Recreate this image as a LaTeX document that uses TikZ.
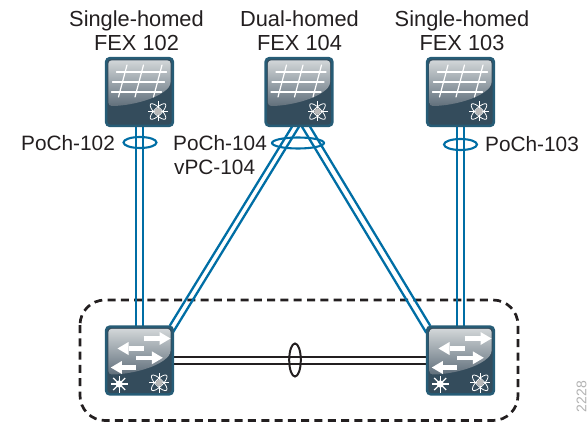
\documentclass[tikz,border=0pt]{standalone}
\usepackage{fontspec}
\setmainfont{Liberation Sans}
\usetikzlibrary{calc}
\definecolor{ciscoblue}{RGB}{0,110,165}
\definecolor{boxedge}{RGB}{38,92,118}
\definecolor{boxdark}{RGB}{52,76,92}
\definecolor{boxmid}{RGB}{95,110,122}
\definecolor{boxcentre}{RGB}{132,142,150}
\definecolor{boxlight}{RGB}{212,216,218}
\definecolor{inkblack}{RGB}{35,31,32}
\tikzset{
  x=1pt,y=-1pt,
  lbl/.style={font=\fontsize{21.8}{24}\selectfont,align=center,inner sep=0pt,text=inkblack},
  plbl/.style={font=\fontsize{20.8}{24}\selectfont,inner sep=0pt,text=inkblack},
  devicebox/.style={minimum width=68pt,minimum height=69pt,inner sep=0pt,draw=none},
  blueln/.style={ciscoblue,line width=2.3pt},
  blackln/.style={inkblack,line width=2.4pt},
  ring/.style={ciscoblue,line width=2.1pt},
  whiteln/.style={white,line width=1.2pt,line cap=round},
  arrowln/.style={white,line width=4.5pt},
}
\newcommand{\devbody}[1]{%
  \fill[boxedge,rounded corners=5pt] ($(#1.north west)+(-.5,-.5)$) rectangle ($(#1.south east)+(.5,.5)$);
  \fill[boxdark,rounded corners=3.5pt] ($(#1.north west)+(2,2)$) rectangle ($(#1.south east)+(-2,-2)$);
  \begin{scope}
    \clip[rounded corners=3.5pt] ($(#1.north west)+(3,3)$) -- ($(#1.north east)+(-3,3)$) -- ($(#1.east)+(-3,-7)$)
      .. controls ($(#1.east)+(-16,8)$) and ($(#1.center)+(-12,14)$) .. ($(#1.west)+(3,14)$) -- cycle;
    \shade[top color=boxlight,middle color=boxcentre,bottom color=boxmid] ($(#1.north west)+(2,2)$) rectangle ($(#1.south east)+(-2,-20)$);
  \end{scope}
}
\newcommand{\orbit}[1]{%
  \begin{scope}[shift={(#1)}]
    \foreach \a in {45,-45}{\draw[white,line width=.8pt,rotate=\a] (0,0) ellipse (10.5pt and 3.6pt);}
    \foreach \a in {0,90,180,270}{\draw[white,line width=.9pt] (0,0) -- (\a:10pt);}
    \fill[black!28] (0,0) circle (3.4pt);
  \end{scope}}
\newcommand{\snow}[1]{%
  \begin{scope}[shift={(#1)}]
    \foreach \a in {0,45,...,315}{\draw[white,line width=1.3pt] (0,0) -- (\a:8.5pt);}
    \fill[white] (0,0) circle (3.6pt);
  \end{scope}}
\newcommand{\fexgrid}[1]{%
  \begin{scope}[shift={(#1.center)}]
    \foreach \yy/\xa/\xb in {-20/-23/27,-10/-27/25,0/-28/22}{\draw[whiteln] (\xa,\yy) -- (\xb,\yy);}
    \foreach \xa/\xb in {-12.5/-21,4/-4.5,22.5/14}{\draw[whiteln] (\xa,-27) -- (\xb,5);}
  \end{scope}
  \orbit{$(#1.center)+(18.5,19.5)$}}
% #1 tail x, #2 head-base x, #3 y, #4 node, #5 direction (+1 or -1)
\newcommand{\swarr}[5]{%
  \draw[arrowln] ($(#4.center)+(#1,#3)$) -- ($(#4.center)+(#2,#3)$);
  \fill[white] ($(#4.center)+(#2,#3)+(#5*11,0)$) -- ($(#4.center)+(#2,#3)+(0,-6.5)$) -- ($(#4.center)+(#2,#3)+(0,6.5)$) -- cycle;}
\newcommand{\swicons}[1]{%
  \swarr{4}{20}{-22}{#1}{1}
  \swarr{4}{-11}{-12}{#1}{-1}
  \swarr{-3.3}{12.3}{-2.7}{#1}{1}
  \swarr{-3.3}{-17.7}{7}{#1}{-1}
  \snow{$(#1.center)+(-20.3,23.5)$}
  \orbit{$(#1.center)+(19.7,22.3)$}}
\begin{document}
\begin{tikzpicture}
\useasboundingbox (0,0) rectangle (588,422);
\node[devicebox] (f102) at (139.5,92) {};
\node[devicebox] (f104) at (299,92) {};
\node[devicebox] (f103) at (460.5,92) {};
\node[devicebox] (s1) at (139.5,360.5) {};
\node[devicebox] (s2) at (460.5,360.5) {};
\node[lbl] (t102) at (136.5,30.5) {Single-homed\\FEX 102};
\node[lbl] (t104) at (299.5,30.5) {Dual-homed\\FEX 104};
\node[lbl] (t103) at (462,30.5) {Single-homed\\FEX 103};
\node[plbl,anchor=base west] (p102) at (21,151) {PoCh-102};
\node[plbl,anchor=base west] (p104) at (173,151) {PoCh-104};
\node[plbl,anchor=base west] (v104) at (174,175) {vPC-104};
\node[plbl,anchor=base west] (p103) at (485,152) {PoCh-103};
\draw[inkblack,line width=2.7pt,dash pattern=on 8pt off 5.3pt,rounded corners=25pt] (80,300) rectangle (518,420.5);
\foreach \dx in {-3.6,3.6}{
  \draw[blueln] ($(f102.south)+(\dx,0)$) -- ($(s1.north)+(\dx,0)$);
  \draw[blueln] ($(f103.south)+(\dx,0)$) -- ($(s2.north)+(\dx,0)$);
}
\draw[blueln] ($(f104.south)+(-7,0)$) -- ($(s1.north east)+(-4,0)$);
\draw[blueln] ($(f104.south)+(0,0)$) -- ($(s1.north east)+(-1,7)$);
\draw[blueln] ($(f104.south)+(3,0)$) -- ($(s2.north west)+(0,7)$);
\draw[blueln] ($(f104.south)+(11,0)$) -- ($(s2.north west)+(4,0)$);
\foreach \dy in {-3.3,3.3}{
  \draw[blackln] ($(s1.east)+(0,\dy)$) -- ($(s2.west)+(0,\dy)$);
}
\draw[ring] (140,142.5) ellipse (16.5pt and 5.5pt);
\draw[ring] (298,143) ellipse (26pt and 5.5pt);
\draw[ring] (460.5,144.5) ellipse (16.5pt and 5.5pt);
\draw[inkblack,line width=2pt] (295,360) ellipse (5.8pt and 16.5pt);
\foreach \n in {f102,f104,f103}{\devbody{\n}\fexgrid{\n}}
\foreach \n in {s1,s2}{\devbody{\n}\swicons{\n}}
\node[font=\fontsize{14}{15}\selectfont,text=black!30,rotate=90,anchor=east,inner sep=0pt] (id) at (581.5,381) {2228};
\end{tikzpicture}
\end{document}
